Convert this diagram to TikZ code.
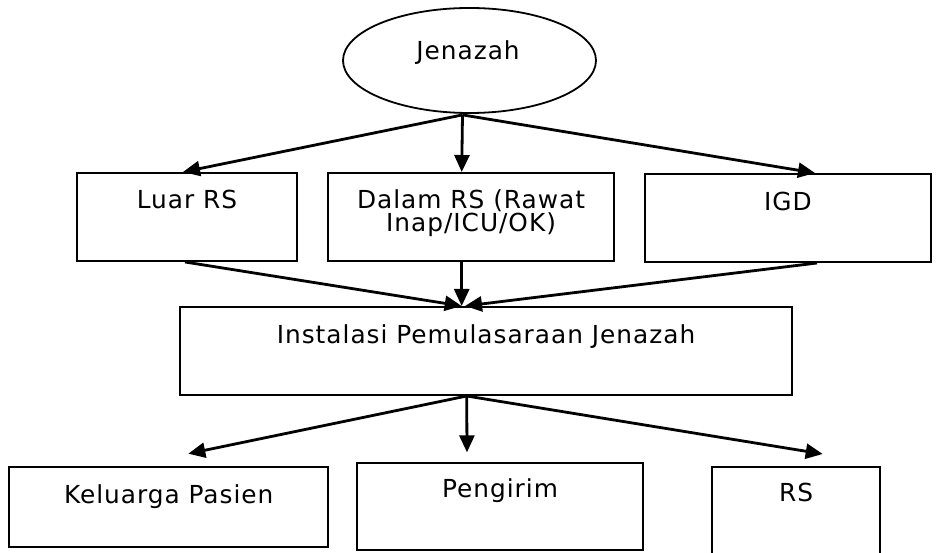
\documentclass[tikz,border=0pt]{standalone}
\usepackage{fontspec}
\setmainfont{DejaVu Sans}[LetterSpace=4]
\usetikzlibrary{arrows.meta,shapes.geometric,calc}
\begin{document}
\begin{tikzpicture}[x=1pt,y=-1pt,
  box/.style={draw, line width=2pt, rectangle, inner sep=0pt},
  txt/.style={font=\fontsize{24.8}{23.4}\selectfont, inner sep=0pt, anchor=base, align=center},
  arr/.style={line width=2.8pt, -{Triangle[length=17pt,width=15pt]}}]
\useasboundingbox (0,0) rectangle (940,553);
\clip (0,0) rectangle (940,553);
% shapes
\node[draw, ellipse, line width=1.8pt, minimum width=253pt, minimum height=105pt, inner sep=0pt] (jen) at (469.5,60.5) {};
\node[box, minimum width=220pt, minimum height=88pt] (luar) at (187,217) {};
\node[box, minimum width=286pt, minimum height=88pt] (dalam) at (471,217) {};
\node[box, minimum width=286pt, minimum height=88pt] (igd) at (788,218) {};
\node[box, minimum width=612pt, minimum height=88pt] (ipj) at (486,351) {};
\node[box, minimum width=319pt, minimum height=80pt] (kel) at (168.7,506.7) {};
\node[box, minimum width=286pt, minimum height=86.7pt] (peng) at (500,506.7) {};
\node[box, minimum width=168pt, minimum height=110pt] (rs) at (796,521.7) {};
% texts
\node[txt] (tjen) at (468,60) {Jenazah};
\node[txt] (tluar) at (187,209) {Luar RS};
\node[txt] (tdalam) at (471,231.7) {Dalam RS (Rawat\\Inap/ICU/OK)};
\node[txt] (tigd) at (788,210.7) {IGD};
\node[txt] (tipj) at (486,343.5) {Instalasi Pemulasaraan Jenazah};
\node[txt] (tkel) at (168.7,503.3) {Keluarga Pasien};
\node[txt] (tpeng) at (500,497.3) {Pengirim};
\node[txt] (trs) at (796,501.7) {RS};
% connectors
\draw[arr] ([xshift=-7pt,yshift=-1pt]jen.south) -- ([xshift=-4pt]luar.north);
\draw[arr] ([xshift=-7pt,yshift=-1pt]jen.south) -- ([xshift=-9.3pt]dalam.north);
\draw[arr] ([xshift=-7pt,yshift=-1pt]jen.south) -- ([xshift=27pt]igd.north);
\draw[arr] ([xshift=-2pt]luar.south) -- ([xshift=-24.3pt]ipj.north);
\draw[arr] ([xshift=-9.3pt]dalam.south) -- ([xshift=-24.3pt]ipj.north);
\draw[arr] ([xshift=29pt]igd.south) -- ([xshift=-21pt]ipj.north);
\draw[arr] ([xshift=-19.3pt]ipj.south) -- ([xshift=19.6pt,yshift=12pt]kel.north);
\draw[arr] ([xshift=-19.3pt]ipj.south) -- ([xshift=-33pt,yshift=10pt]peng.north);
\draw[arr] ([xshift=-19.3pt]ipj.south) -- ([xshift=26.7pt,yshift=11.7pt]rs.north);
\end{tikzpicture}
\end{document}
